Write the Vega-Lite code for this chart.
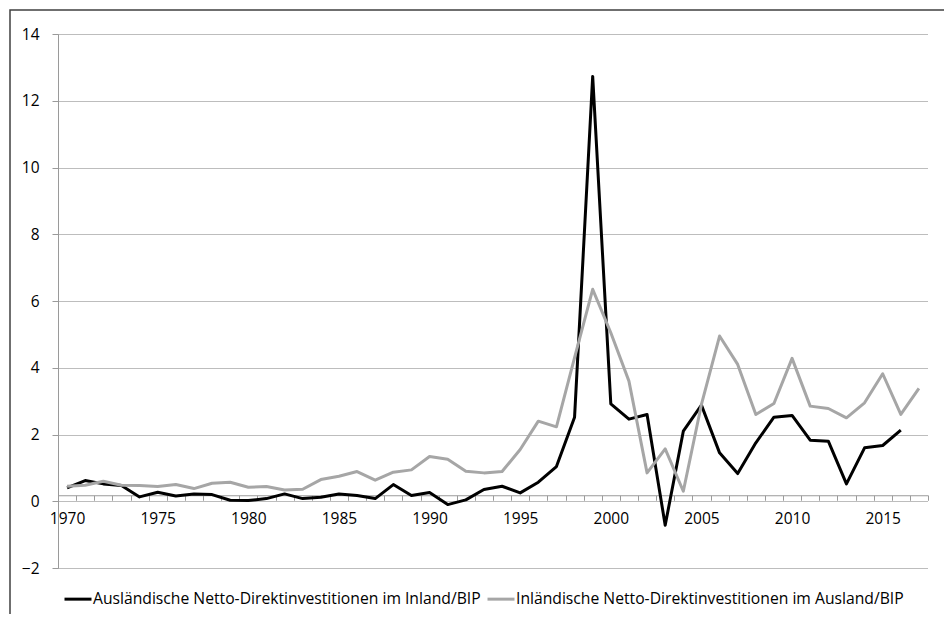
{
  "$schema": "https://vega.github.io/schema/vega-lite/v6.json",
  "width": 934,
  "height": 604,
  "autosize": "none",
  "padding": {"left": 10, "top": 10, "right": 0, "bottom": 0},
  "background": "white",
  "config": {
    "view": {"stroke": "#404040", "strokeWidth": 1.5, "strokeDash": [934, 1538, 604]},
    "font": "Open Sans"
  },
  "data": {
    "values": [
      {"year": 1970, "series": "Ausländische Netto-Direktinvestitionen im Inland/BIP", "value": 0.40},
      {"year": 1971, "series": "Ausländische Netto-Direktinvestitionen im Inland/BIP", "value": 0.62},
      {"year": 1972, "series": "Ausländische Netto-Direktinvestitionen im Inland/BIP", "value": 0.52},
      {"year": 1973, "series": "Ausländische Netto-Direktinvestitionen im Inland/BIP", "value": 0.47},
      {"year": 1974, "series": "Ausländische Netto-Direktinvestitionen im Inland/BIP", "value": 0.13},
      {"year": 1975, "series": "Ausländische Netto-Direktinvestitionen im Inland/BIP", "value": 0.27},
      {"year": 1976, "series": "Ausländische Netto-Direktinvestitionen im Inland/BIP", "value": 0.16},
      {"year": 1977, "series": "Ausländische Netto-Direktinvestitionen im Inland/BIP", "value": 0.22},
      {"year": 1978, "series": "Ausländische Netto-Direktinvestitionen im Inland/BIP", "value": 0.20},
      {"year": 1979, "series": "Ausländische Netto-Direktinvestitionen im Inland/BIP", "value": 0.03},
      {"year": 1980, "series": "Ausländische Netto-Direktinvestitionen im Inland/BIP", "value": 0.02},
      {"year": 1981, "series": "Ausländische Netto-Direktinvestitionen im Inland/BIP", "value": 0.08},
      {"year": 1982, "series": "Ausländische Netto-Direktinvestitionen im Inland/BIP", "value": 0.22},
      {"year": 1983, "series": "Ausländische Netto-Direktinvestitionen im Inland/BIP", "value": 0.08},
      {"year": 1984, "series": "Ausländische Netto-Direktinvestitionen im Inland/BIP", "value": 0.12},
      {"year": 1985, "series": "Ausländische Netto-Direktinvestitionen im Inland/BIP", "value": 0.22},
      {"year": 1986, "series": "Ausländische Netto-Direktinvestitionen im Inland/BIP", "value": 0.17},
      {"year": 1987, "series": "Ausländische Netto-Direktinvestitionen im Inland/BIP", "value": 0.08},
      {"year": 1988, "series": "Ausländische Netto-Direktinvestitionen im Inland/BIP", "value": 0.50},
      {"year": 1989, "series": "Ausländische Netto-Direktinvestitionen im Inland/BIP", "value": 0.17},
      {"year": 1990, "series": "Ausländische Netto-Direktinvestitionen im Inland/BIP", "value": 0.26},
      {"year": 1991, "series": "Ausländische Netto-Direktinvestitionen im Inland/BIP", "value": -0.10},
      {"year": 1992, "series": "Ausländische Netto-Direktinvestitionen im Inland/BIP", "value": 0.04},
      {"year": 1993, "series": "Ausländische Netto-Direktinvestitionen im Inland/BIP", "value": 0.35},
      {"year": 1994, "series": "Ausländische Netto-Direktinvestitionen im Inland/BIP", "value": 0.45},
      {"year": 1995, "series": "Ausländische Netto-Direktinvestitionen im Inland/BIP", "value": 0.25},
      {"year": 1996, "series": "Ausländische Netto-Direktinvestitionen im Inland/BIP", "value": 0.57},
      {"year": 1997, "series": "Ausländische Netto-Direktinvestitionen im Inland/BIP", "value": 1.04},
      {"year": 1998, "series": "Ausländische Netto-Direktinvestitionen im Inland/BIP", "value": 2.52},
      {"year": 1999, "series": "Ausländische Netto-Direktinvestitionen im Inland/BIP", "value": 12.73},
      {"year": 2000, "series": "Ausländische Netto-Direktinvestitionen im Inland/BIP", "value": 2.92},
      {"year": 2001, "series": "Ausländische Netto-Direktinvestitionen im Inland/BIP", "value": 2.46},
      {"year": 2002, "series": "Ausländische Netto-Direktinvestitionen im Inland/BIP", "value": 2.60},
      {"year": 2003, "series": "Ausländische Netto-Direktinvestitionen im Inland/BIP", "value": -0.72},
      {"year": 2004, "series": "Ausländische Netto-Direktinvestitionen im Inland/BIP", "value": 2.10},
      {"year": 2005, "series": "Ausländische Netto-Direktinvestitionen im Inland/BIP", "value": 2.88},
      {"year": 2006, "series": "Ausländische Netto-Direktinvestitionen im Inland/BIP", "value": 1.45},
      {"year": 2007, "series": "Ausländische Netto-Direktinvestitionen im Inland/BIP", "value": 0.83},
      {"year": 2008, "series": "Ausländische Netto-Direktinvestitionen im Inland/BIP", "value": 1.75},
      {"year": 2009, "series": "Ausländische Netto-Direktinvestitionen im Inland/BIP", "value": 2.52},
      {"year": 2010, "series": "Ausländische Netto-Direktinvestitionen im Inland/BIP", "value": 2.57},
      {"year": 2011, "series": "Ausländische Netto-Direktinvestitionen im Inland/BIP", "value": 1.83},
      {"year": 2012, "series": "Ausländische Netto-Direktinvestitionen im Inland/BIP", "value": 1.80},
      {"year": 2013, "series": "Ausländische Netto-Direktinvestitionen im Inland/BIP", "value": 0.52},
      {"year": 2014, "series": "Ausländische Netto-Direktinvestitionen im Inland/BIP", "value": 1.60},
      {"year": 2015, "series": "Ausländische Netto-Direktinvestitionen im Inland/BIP", "value": 1.67},
      {"year": 2016, "series": "Ausländische Netto-Direktinvestitionen im Inland/BIP", "value": 2.13},
      {"year": 1970, "series": "Inländische Netto-Direktinvestitionen im Ausland/BIP", "value": 0.45},
      {"year": 1971, "series": "Inländische Netto-Direktinvestitionen im Ausland/BIP", "value": 0.48},
      {"year": 1972, "series": "Inländische Netto-Direktinvestitionen im Ausland/BIP", "value": 0.60},
      {"year": 1973, "series": "Inländische Netto-Direktinvestitionen im Ausland/BIP", "value": 0.48},
      {"year": 1974, "series": "Inländische Netto-Direktinvestitionen im Ausland/BIP", "value": 0.47},
      {"year": 1975, "series": "Inländische Netto-Direktinvestitionen im Ausland/BIP", "value": 0.44},
      {"year": 1976, "series": "Inländische Netto-Direktinvestitionen im Ausland/BIP", "value": 0.50},
      {"year": 1977, "series": "Inländische Netto-Direktinvestitionen im Ausland/BIP", "value": 0.38},
      {"year": 1978, "series": "Inländische Netto-Direktinvestitionen im Ausland/BIP", "value": 0.54},
      {"year": 1979, "series": "Inländische Netto-Direktinvestitionen im Ausland/BIP", "value": 0.57},
      {"year": 1980, "series": "Inländische Netto-Direktinvestitionen im Ausland/BIP", "value": 0.42},
      {"year": 1981, "series": "Inländische Netto-Direktinvestitionen im Ausland/BIP", "value": 0.44},
      {"year": 1982, "series": "Inländische Netto-Direktinvestitionen im Ausland/BIP", "value": 0.34},
      {"year": 1983, "series": "Inländische Netto-Direktinvestitionen im Ausland/BIP", "value": 0.36},
      {"year": 1984, "series": "Inländische Netto-Direktinvestitionen im Ausland/BIP", "value": 0.65},
      {"year": 1985, "series": "Inländische Netto-Direktinvestitionen im Ausland/BIP", "value": 0.75},
      {"year": 1986, "series": "Inländische Netto-Direktinvestitionen im Ausland/BIP", "value": 0.89},
      {"year": 1987, "series": "Inländische Netto-Direktinvestitionen im Ausland/BIP", "value": 0.63},
      {"year": 1988, "series": "Inländische Netto-Direktinvestitionen im Ausland/BIP", "value": 0.87},
      {"year": 1989, "series": "Inländische Netto-Direktinvestitionen im Ausland/BIP", "value": 0.94},
      {"year": 1990, "series": "Inländische Netto-Direktinvestitionen im Ausland/BIP", "value": 1.34},
      {"year": 1991, "series": "Inländische Netto-Direktinvestitionen im Ausland/BIP", "value": 1.26},
      {"year": 1992, "series": "Inländische Netto-Direktinvestitionen im Ausland/BIP", "value": 0.90},
      {"year": 1993, "series": "Inländische Netto-Direktinvestitionen im Ausland/BIP", "value": 0.85},
      {"year": 1994, "series": "Inländische Netto-Direktinvestitionen im Ausland/BIP", "value": 0.89},
      {"year": 1995, "series": "Inländische Netto-Direktinvestitionen im Ausland/BIP", "value": 1.55},
      {"year": 1996, "series": "Inländische Netto-Direktinvestitionen im Ausland/BIP", "value": 2.40},
      {"year": 1997, "series": "Inländische Netto-Direktinvestitionen im Ausland/BIP", "value": 2.23},
      {"year": 1998, "series": "Inländische Netto-Direktinvestitionen im Ausland/BIP", "value": 4.30},
      {"year": 1999, "series": "Inländische Netto-Direktinvestitionen im Ausland/BIP", "value": 6.35},
      {"year": 2000, "series": "Inländische Netto-Direktinvestitionen im Ausland/BIP", "value": 5.05},
      {"year": 2001, "series": "Inländische Netto-Direktinvestitionen im Ausland/BIP", "value": 3.60},
      {"year": 2002, "series": "Inländische Netto-Direktinvestitionen im Ausland/BIP", "value": 0.85},
      {"year": 2003, "series": "Inländische Netto-Direktinvestitionen im Ausland/BIP", "value": 1.57},
      {"year": 2004, "series": "Inländische Netto-Direktinvestitionen im Ausland/BIP", "value": 0.30},
      {"year": 2005, "series": "Inländische Netto-Direktinvestitionen im Ausland/BIP", "value": 2.90},
      {"year": 2006, "series": "Inländische Netto-Direktinvestitionen im Ausland/BIP", "value": 4.95},
      {"year": 2007, "series": "Inländische Netto-Direktinvestitionen im Ausland/BIP", "value": 4.10},
      {"year": 2008, "series": "Inländische Netto-Direktinvestitionen im Ausland/BIP", "value": 2.60},
      {"year": 2009, "series": "Inländische Netto-Direktinvestitionen im Ausland/BIP", "value": 2.93},
      {"year": 2010, "series": "Inländische Netto-Direktinvestitionen im Ausland/BIP", "value": 4.28},
      {"year": 2011, "series": "Inländische Netto-Direktinvestitionen im Ausland/BIP", "value": 2.85},
      {"year": 2012, "series": "Inländische Netto-Direktinvestitionen im Ausland/BIP", "value": 2.78},
      {"year": 2013, "series": "Inländische Netto-Direktinvestitionen im Ausland/BIP", "value": 2.50},
      {"year": 2014, "series": "Inländische Netto-Direktinvestitionen im Ausland/BIP", "value": 2.95},
      {"year": 2015, "series": "Inländische Netto-Direktinvestitionen im Ausland/BIP", "value": 3.82},
      {"year": 2016, "series": "Inländische Netto-Direktinvestitionen im Ausland/BIP", "value": 2.60},
      {"year": 2017, "series": "Inländische Netto-Direktinvestitionen im Ausland/BIP", "value": 3.38}
    ]
  },
  "resolve": {"axis": {"x": "independent"}},
  "encoding": {
    "y": {
      "field": "value",
      "type": "quantitative",
      "scale": {"domain": [-2, 14], "range": [558, 24], "nice": false, "zero": false},
      "axis": {
        "orient": "left",
        "offset": -48,
        "values": [-2, 0, 2, 4, 6, 8, 10, 12, 14],
        "title": null,
        "grid": true,
        "gridColor": "#7a7a7a",
        "gridDash": [1, 1],
        "gridWidth": 1,
        "domainColor": "#9a9a9a",
        "domainWidth": 1,
        "tickColor": "#9a9a9a",
        "tickSize": 6,
        "labelPadding": 13,
        "labelFontSize": 15.5,
        "labelColor": "#000000",
        "labelFont": "Open Sans"
      }
    },
    "color": {
      "field": "series",
      "type": "nominal",
      "scale": {
        "domain": ["Ausländische Netto-Direktinvestitionen im Inland/BIP", "Inländische Netto-Direktinvestitionen im Ausland/BIP"],
        "range": ["#000000", "#a6a6a6"]
      },
      "legend": {
        "orient": "none",
        "legendX": 53,
        "legendY": 574,
        "direction": "horizontal",
        "title": null,
        "symbolType": "stroke",
        "symbolSize": 729,
        "symbolStrokeWidth": 3,
        "labelFontSize": 15.7,
        "labelFont": "Open Sans",
        "labelColor": "#000000",
        "labelOffset": 0,
        "labelLimit": 700,
        "columnPadding": 0,
        "padding": 0
      }
    }
  },
  "layer": [
    {
      "transform": [{"filter": {"field": "series", "equal": "Ausländische Netto-Direktinvestitionen im Inland/BIP"}}],
      "mark": {"type": "line", "strokeWidth": 3, "strokeJoin": "round"},
      "encoding": {
        "x": {
          "field": "year",
          "type": "quantitative",
          "scale": {"domain": [1969.5, 2017.5], "range": [48, 918], "nice": false, "zero": false},
          "axis": {
            "orient": "bottom",
            "offset": -118.75,
            "values": [1970, 1975, 1980, 1985, 1990, 1995, 2000, 2005, 2010, 2015],
            "format": "d",
            "title": null,
            "grid": false,
            "ticks": false,
            "tickSize": 0,
            "domain": false,
            "labelPadding": 16,
            "labelFontSize": 15.5,
            "labelColor": "#000000",
            "labelFont": "Open Sans",
            "labelFlush": false
          }
        }
      }
    },
    {
      "transform": [{"filter": {"field": "series", "equal": "Inländische Netto-Direktinvestitionen im Ausland/BIP"}}],
      "mark": {"type": "line", "strokeWidth": 3, "strokeJoin": "round"},
      "encoding": {
        "x": {
          "field": "year",
          "type": "quantitative",
          "scale": {"domain": [1969.5, 2017.5], "range": [48, 918], "nice": false, "zero": false},
          "axis": {
            "orient": "bottom",
            "offset": -118.75,
            "values": [1969.5, 1970.5, 1971.5, 1972.5, 1973.5, 1974.5, 1975.5, 1976.5, 1977.5, 1978.5, 1979.5, 1980.5, 1981.5, 1982.5, 1983.5, 1984.5, 1985.5, 1986.5, 1987.5, 1988.5, 1989.5, 1990.5, 1991.5, 1992.5, 1993.5, 1994.5, 1995.5, 1996.5, 1997.5, 1998.5, 1999.5, 2000.5, 2001.5, 2002.5, 2003.5, 2004.5, 2005.5, 2006.5, 2007.5, 2008.5, 2009.5, 2010.5, 2011.5, 2012.5, 2013.5, 2014.5, 2015.5, 2016.5, 2017.5],
            "title": null,
            "grid": false,
            "labels": false,
            "ticks": true,
            "tickSize": 5,
            "tickColor": "#9a9a9a",
            "domain": true,
            "domainColor": "#9a9a9a",
            "domainWidth": 1
          }
        }
      }
    }
  ]
}
